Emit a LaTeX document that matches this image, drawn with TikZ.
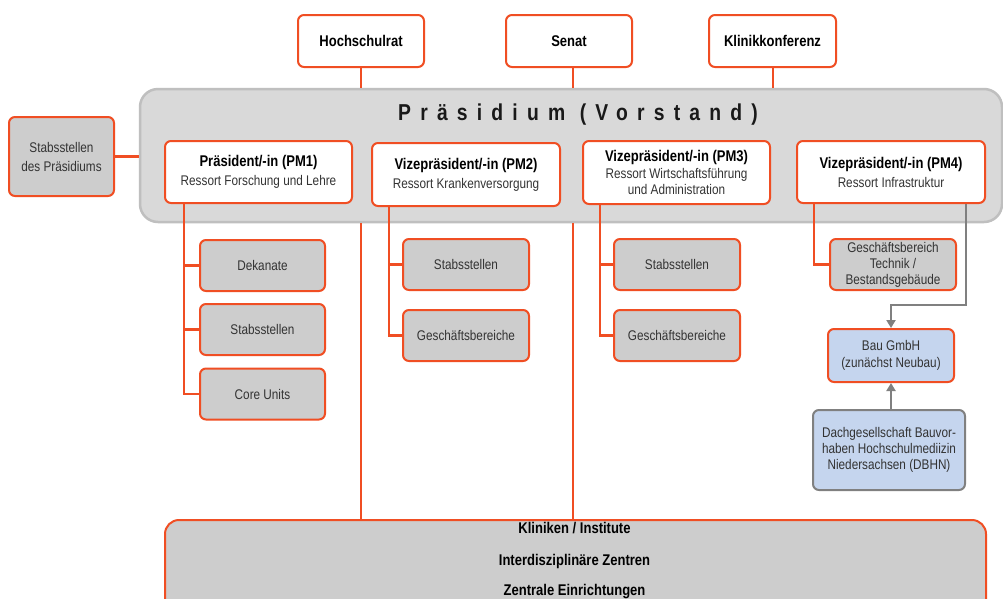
\documentclass[tikz,border=0pt]{standalone}
\usepackage{fontspec}
\setmainfont{Liberation Sans}[FakeStretch=0.84]
\usetikzlibrary{arrows.meta}
\definecolor{ored}{HTML}{F04E23}
\definecolor{boxgray}{HTML}{CDCDCD}
\definecolor{prgray}{HTML}{D9D9D9}
\definecolor{prborder}{HTML}{BFBFBF}
\definecolor{lblue}{HTML}{C5D5EE}
\definecolor{txt}{HTML}{333333}
\definecolor{arrgray}{HTML}{808080}
\tikzset{
  box/.style={draw=ored, line width=2pt, rounded corners=6pt, align=center, inner sep=0pt},
  whitebox/.style={box, fill=white, font=\fontsize{15.5}{17}\selectfont\bfseries},
  pmbox/.style={box, fill=white, font=\fontsize{14}{19}\selectfont, text=txt},
  graybox/.style={box, fill=boxgray, font=\fontsize{14}{16}\selectfont, text=txt},
  bluebox/.style={box, fill=lblue, font=\fontsize{14}{16}\selectfont, text=txt},
  kltext/.style={font=\fontsize{15.5}{17}\selectfont\bfseries, text=black},
  redline/.style={draw=ored, line width=2.6pt},
  grayline/.style={draw=arrgray, line width=2.6pt, -{Triangle[length=8pt,width=9pt]}},
}
\newcommand{\hd}[1]{{\color{black}\bfseries\fontsize{15.5}{17}\selectfont #1}}
\begin{document}
\begin{tikzpicture}[x=1pt,y=-1pt]
\useasboundingbox (0,0) rectangle (1003,598);
\clip (0,0) rectangle (1003,598);
\fill[white] (0,0) rectangle (1003,598);
% top boxes
\node[whitebox, minimum width=126pt, minimum height=52pt] (hr) at (361,41) {Hochschulrat};
\node[whitebox, minimum width=126pt, minimum height=52pt] (se) at (569,41) {Senat};
\node[whitebox, minimum width=127pt, minimum height=52pt] (kk) at (772.5,41) {Klinikkonferenz};
% Praesidium
\node[draw=prborder, fill=prgray, line width=2.5pt, rounded corners=18pt, minimum width=862pt, minimum height=133pt, inner sep=0pt] (pr) at (571,155.5) {};
\node[font=\fontsize{23}{25}\selectfont\bfseries\addfontfeature{LetterSpace=40}, text=black!90, inner sep=0pt, anchor=base] (title) at (578,120) {Präsidium (Vorstand)};
\coordinate (hrx) at (361,0);
\coordinate (sex) at (573,0);
\coordinate (kkx) at (773,0);
\draw[redline] (hr.south) -- (hr.south |- pr.north);
\draw[redline] (se.south -| sex) -- (pr.north -| sex);
\draw[redline] (kk.south -| kkx) -- (pr.north -| kkx);
% Stabsstellen des Praesidiums
\node[graybox, minimum width=105pt, minimum height=79pt, font=\fontsize{14}{19}\selectfont] (sp) at (61.5,156.5) {Stabsstellen\\des Präsidiums};
\draw[redline] (sp.east) -- (sp.east -| pr.west);
% PM boxes
\node[pmbox, minimum width=187pt, minimum height=62pt] (pm1) at (258.5,172) {\hd{Präsident/-in (PM1)}\\Ressort Forschung und Lehre};
\node[pmbox, minimum width=188pt, minimum height=63pt] (pm2) at (466,174.5) {\hd{Vizepräsident/-in (PM2)}\\Ressort Krankenversorgung};
\node[pmbox, minimum width=187pt, minimum height=63pt, font=\fontsize{14}{16.5}\selectfont] (pm3) at (676.5,172.5) {\hd{Vizepräsident/-in (PM3)}\\Ressort Wirtschaftsführung\\und Administration};
\node[pmbox, minimum width=188pt, minimum height=62pt] (pm4) at (891,172) {\hd{Vizepräsident/-in (PM4)}\\Ressort Infrastruktur};
% bottom box
\node[box, fill=boxgray, minimum width=821pt, minimum height=130pt, rounded corners=14pt, anchor=north west] (kl) at (164,519) {};
\node[kltext] (kt1) at (574.5,528) {Kliniken / Institute};
\node[kltext] (kt2) at (574.5,561) {Interdisziplinäre Zentren};
\node[kltext] (kt3) at (574.5,592) {Zentrale Einrichtungen};
\draw[redline] (pr.south -| hrx) -- (kl.north -| hrx);
\draw[redline] (pr.south -| sex) -- (kl.north -| sex);
% PM1 children
\node[graybox, minimum width=125pt, minimum height=51pt] (dek) at (262.5,265.5) {Dekanate};
\node[graybox, minimum width=125pt, minimum height=51pt] (st1) at (262.5,329.5) {Stabsstellen};
\node[graybox, minimum width=125pt, minimum height=51pt] (core) at (262.5,394) {Core Units};
\coordinate (b1) at (184,0);
\draw[redline] (pm1.south -| b1) |- (core.west);
\draw[redline] (dek.west -| b1) -- (dek.west);
\draw[redline] (st1.west -| b1) -- (st1.west);
% PM2 children
\node[graybox, minimum width=126pt, minimum height=51pt] (st2) at (466,264.5) {Stabsstellen};
\node[graybox, minimum width=126pt, minimum height=51pt] (gb2) at (466,335.5) {Geschäftsbereiche};
\coordinate (b2) at (389,0);
\draw[redline] (pm2.south -| b2) |- (gb2.west);
\draw[redline] (st2.west -| b2) -- (st2.west);
% PM3 children
\node[graybox, minimum width=126pt, minimum height=51pt] (st3) at (677,264.5) {Stabsstellen};
\node[graybox, minimum width=126pt, minimum height=51pt] (gb3) at (677,335.5) {Geschäftsbereiche};
\coordinate (b3) at (600,0);
\draw[redline] (pm3.south -| b3) |- (gb3.west);
\draw[redline] (st3.west -| b3) -- (st3.west);
% PM4 children
\node[graybox, minimum width=126pt, minimum height=51pt, font=\fontsize{14}{16}\selectfont] (tech) at (893,264.5) {Geschäftsbereich\\Technik /\\Bestandsgebäude};
\coordinate (b4) at (814,0);
\draw[redline] (pm4.south -| b4) |- (tech.west);
\node[bluebox, minimum width=126pt, minimum height=53pt, font=\fontsize{14}{17}\selectfont] (bau) at (891,355.5) {Bau GmbH\\(zunächst Neubau)};
\node[bluebox, draw=arrgray, minimum width=152pt, minimum height=80pt] (dbhn) at (889,450) {Dachgesellschaft Bauvor-\\haben Hochschulmediizin\\Niedersachsen (DBHN)};
\coordinate (g4) at (966,305);
\draw[grayline] (pm4.south -| g4) -- (g4) -| (bau.north);
\draw[grayline] (dbhn.north -| bau) -- (bau.south);
\end{tikzpicture}
\end{document}
